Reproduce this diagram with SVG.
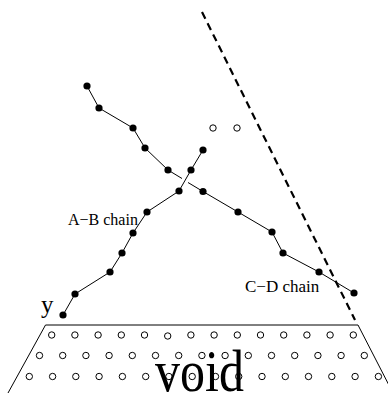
<svg xmlns="http://www.w3.org/2000/svg" xmlns:xlink="http://www.w3.org/1999/xlink" width="388" height="393" viewBox="0 0 388 393">
<style>
.ln{fill:none;stroke:#000;stroke-width:1}
.dash{fill:none;stroke:#000;stroke-width:2.2;stroke-dasharray:7.5 5}
.dot{fill:#000}
.oc{fill:none;stroke:#000;stroke-width:1}
.lbl{font-family:"Liberation Serif","Times New Roman",serif;fill:#000}
</style>
<defs>
<circle id="f" r="3.6" class="dot"/>
<circle id="o" r="3.2" class="oc"/>
</defs>
<rect width="388" height="393" fill="#fff"/>
<g id="connectors">
<line class="dash" x1="202" y1="12" x2="355" y2="320"/>
<polyline class="ln" points="87,86 99,108 133,128 145,148 168,170 182,178.5"/>
<polyline class="ln" points="188,182.5 203,191.5 238,212 272,232 283,253 319,272 354,293"/>
<polyline class="ln" points="203,150 191,170 179,191 147,212 133,233 122,253 110,272 75,294 63,315"/>
<polyline class="ln" points="8,393 45.5,325 358,325 394,395"/>
</g>
<g id="cd-chain">
<use xlink:href="#f" x="87" y="86"/><use xlink:href="#f" x="99" y="108"/><use xlink:href="#f" x="133" y="128"/><use xlink:href="#f" x="145" y="148"/><use xlink:href="#f" x="168" y="170"/><use xlink:href="#f" x="203" y="191.5"/><use xlink:href="#f" x="238" y="212"/><use xlink:href="#f" x="272" y="232"/><use xlink:href="#f" x="283" y="253"/><use xlink:href="#f" x="319" y="272"/><use xlink:href="#f" x="354" y="293"/>
</g>
<g id="ab-chain">
<use xlink:href="#f" x="203" y="150"/><use xlink:href="#f" x="191" y="170"/><use xlink:href="#f" x="179" y="191"/><use xlink:href="#f" x="147" y="212"/><use xlink:href="#f" x="133" y="233"/><use xlink:href="#f" x="122" y="253"/><use xlink:href="#f" x="110" y="272"/><use xlink:href="#f" x="75" y="294"/><use xlink:href="#f" x="63" y="315"/>
</g>
<g id="free-sites">
<use xlink:href="#o" x="213" y="128"/><use xlink:href="#o" x="237" y="128"/>
</g>
<g id="void-lattice">
<use xlink:href="#o" x="51.7" y="335"/><use xlink:href="#o" x="74.9" y="335"/><use xlink:href="#o" x="98.1" y="335"/><use xlink:href="#o" x="121.3" y="335"/><use xlink:href="#o" x="144.5" y="335"/><use xlink:href="#o" x="167.7" y="336"/><use xlink:href="#o" x="190.9" y="335"/><use xlink:href="#o" x="214.1" y="335"/><use xlink:href="#o" x="237.3" y="335"/><use xlink:href="#o" x="260.5" y="335"/><use xlink:href="#o" x="283.7" y="335"/><use xlink:href="#o" x="306.9" y="335"/><use xlink:href="#o" x="330.1" y="335"/><use xlink:href="#o" x="353.3" y="335"/>
<use xlink:href="#o" x="39.5" y="355.5"/><use xlink:href="#o" x="62.7" y="355.5"/><use xlink:href="#o" x="85.9" y="355.5"/><use xlink:href="#o" x="109.1" y="355.5"/><use xlink:href="#o" x="132.3" y="355.5"/><use xlink:href="#o" x="155.5" y="355.5"/><use xlink:href="#o" x="178.7" y="355.5"/><use xlink:href="#o" x="201.9" y="355.5"/><use xlink:href="#o" x="225.1" y="355.5"/><use xlink:href="#o" x="248.3" y="355.5"/><use xlink:href="#o" x="271.5" y="355.5"/><use xlink:href="#o" x="294.7" y="355.5"/><use xlink:href="#o" x="317.9" y="355.5"/><use xlink:href="#o" x="341.1" y="355.5"/><use xlink:href="#o" x="364.3" y="355.5"/>
<use xlink:href="#o" x="29.3" y="376.5"/><use xlink:href="#o" x="52.6" y="376.5"/><use xlink:href="#o" x="75.8" y="376.5"/><use xlink:href="#o" x="99.1" y="376.5"/><use xlink:href="#o" x="122.4" y="376.5"/><use xlink:href="#o" x="145.7" y="376.5"/><use xlink:href="#o" x="168.9" y="376.5"/><use xlink:href="#o" x="192.2" y="376.5"/><use xlink:href="#o" x="215.5" y="376.5"/><use xlink:href="#o" x="238.7" y="376.5"/><use xlink:href="#o" x="262" y="376.5"/><use xlink:href="#o" x="285.3" y="376.5"/><use xlink:href="#o" x="308.5" y="376.5"/><use xlink:href="#o" x="331.8" y="376.5"/><use xlink:href="#o" x="355.1" y="376.5"/><use xlink:href="#o" x="378.4" y="376.5"/>
</g>
<g id="labels">
<text class="lbl" x="68" y="225" font-size="16">A−B chain</text>
<text class="lbl" x="245" y="292" font-size="17">C−D chain</text>
<text class="lbl" x="41" y="313" font-size="25">y</text>
<text class="lbl" font-size="50" transform="translate(155,391) scale(1,1.2)">void</text>
</g>
</svg>
